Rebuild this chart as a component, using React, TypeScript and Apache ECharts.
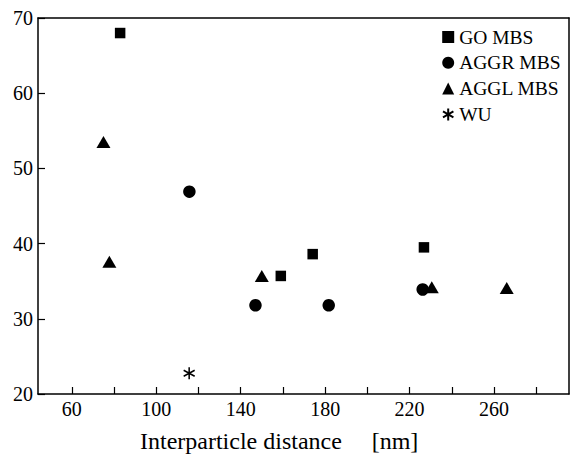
import React, { useEffect, useRef } from "react";
import * as echarts from "echarts";

const goMbs: [number, number][] = [
  [82.9, 68.0],
  [159.0, 35.7],
  [174.1, 38.6],
  [226.8, 39.5],
];
const aggrMbs: [number, number][] = [
  [115.7, 46.9],
  [147.0, 31.8],
  [181.7, 31.8],
  [226.2, 33.9],
];
const agglMbs: [number, number][] = [
  [75.0, 53.5],
  [77.8, 37.6],
  [150.0, 35.7],
  [230.5, 34.2],
  [266.0, 34.1],
];
const wu: [number, number][] = [[115.6, 22.75]];

const xTicks = [60, 80, 100, 120, 140, 160, 180, 200, 220, 240, 260, 280];
const xLabels = [60, 100, 140, 180, 220, 260];
const xTitle = "Interparticle distance";
const xUnit = "[nm]";

const FONT = "Times New Roman, Times, Liberation Serif, DejaVu Serif";
const STAR = "path://M0,-6L0,6M-5.2,-3L5.2,3M-5.2,3L5.2,-3";

export default function App() {
  const ref = useRef<HTMLDivElement>(null);
  useEffect(() => {
    document.body.style.margin = "0";
    const chart = echarts.init(ref.current!, null, { renderer: "svg" });
    const axisLine = { show: true, lineStyle: { color: "#000", width: 1.5 } };
    chart.setOption({
      animation: false,
      backgroundColor: "#fff",
      textStyle: { fontFamily: FONT, color: "#000" },
      grid: { left: 38, top: 18, width: 531, height: 376, show: false },
      legend: {
        orient: "vertical",
        left: 437,
        top: 22,
        padding: 5,
        itemWidth: 12,
        itemHeight: 12,
        itemGap: 5.8,
        textStyle: { fontFamily: FONT, fontSize: 19.5, color: "#000" },
        data: ["GO MBS", "AGGR MBS", "AGGL MBS", "WU"],
      },
      xAxis: [
        {
          type: "value",
          min: 44,
          max: 295.5,
          axisLine,
          splitLine: { show: false },
          axisTick: {
            show: true,
            inside: true,
            length: 7,
            customValues: xTicks,
            lineStyle: { color: "#000", width: 1.2 },
          },
          axisLabel: {
            customValues: xLabels,
            fontSize: 20,
            fontFamily: FONT,
            color: "#000",
            margin: 5,
          },
        },
        {
          type: "value",
          position: "top",
          min: 44,
          max: 295.5,
          axisLine,
          axisTick: { show: false },
          axisLabel: { show: false },
          splitLine: { show: false },
        },
      ],
      yAxis: [
        {
          type: "value",
          min: 20,
          max: 70,
          interval: 10,
          axisLine,
          splitLine: { show: false },
          axisTick: {
            show: true,
            inside: true,
            length: 7,
            lineStyle: { color: "#000", width: 1.2 },
          },
          axisLabel: { fontSize: 20, fontFamily: FONT, color: "#000", margin: 5 },
        },
        {
          type: "value",
          position: "right",
          min: 20,
          max: 70,
          axisLine,
          axisTick: { show: false },
          axisLabel: { show: false },
          splitLine: { show: false },
        },
      ],
      graphic: [
        {
          type: "text",
          left: 140,
          top: 429,
          style: { text: xTitle, fontSize: 24, fontFamily: FONT, fill: "#000" },
        },
        {
          type: "text",
          left: 371.7,
          top: 429,
          style: { text: xUnit, fontSize: 24, fontFamily: FONT, fill: "#000" },
        },
      ],
      series: [
        {
          name: "GO MBS",
          type: "scatter",
          symbol: "rect",
          symbolSize: 10.5,
          itemStyle: { color: "#000", opacity: 1 },
          data: goMbs,
        },
        {
          name: "AGGR MBS",
          type: "scatter",
          symbol: "circle",
          symbolSize: 12.5,
          itemStyle: { color: "#000", opacity: 1 },
          data: aggrMbs,
        },
        {
          name: "AGGL MBS",
          type: "scatter",
          symbol: "triangle",
          symbolSize: [14, 12],
          itemStyle: { color: "#000", opacity: 1 },
          data: agglMbs,
        },
        {
          name: "WU",
          type: "scatter",
          symbol: STAR,
          symbolSize: [11, 12],
          itemStyle: { color: "rgba(0,0,0,0)", borderColor: "#000", borderWidth: 1.6, opacity: 1 },
          data: wu,
        },
      ],
    });
    return () => chart.dispose();
  }, []);
  return (
    <div
      ref={ref}
      style={{ position: "fixed", left: 0, top: 0, width: 571, height: 457 }}
    />
  );
}
